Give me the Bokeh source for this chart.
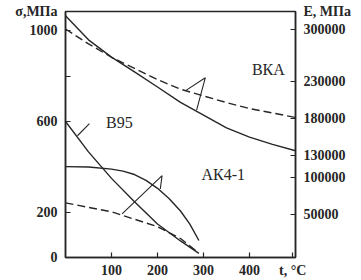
from bokeh.plotting import figure
from bokeh.models import Range1d, LinearAxis, FixedTicker, Label
from bokeh.embed import file_html
from bokeh.resources import INLINE

# ---- data ----
t_vka = [0, 50, 100, 150, 200, 250, 300, 350, 400, 450, 500]
sigma_vka = [1066, 960, 884, 819, 752, 684, 628, 572, 531, 499, 471]
E_vka = [300000, 280000, 262000, 247000, 232000, 219000, 210000, 201000, 193000, 187000, 181000]

t_v95 = [0, 50, 100, 150, 200, 250, 290]
sigma_v95 = [600, 466, 349, 246, 148, 73, 18]

t_ak = [0, 50, 100, 125, 150, 175, 200, 225, 250, 270, 290]
sigma_ak = [401, 399, 390, 381, 366, 340, 305, 260, 205, 148, 75]

t_ak_E = [0, 50, 100, 150, 200, 250, 283]
E_ak = [66000, 60000, 54000, 44000, 34000, 18000, 2000]

T_MAX = 500
SIGMA_MAX = 1085
E_MIN, E_MAX = -7500, 323600

x_ticks = [100, 200, 300, 400, 494]
x_labels = {494: "t, °C"}
sigma_ticks = [0, 200, 400, 600, 800, 1000, SIGMA_MAX]
sigma_labels = {400: "", 800: "", SIGMA_MAX: "σ,МПа"}
E_ticks = [50000, 100000, 130000, 180000, 230000, 300000, E_MAX]
E_labels = {v: str(v) for v in E_ticks}
E_labels[E_MAX] = "E, МПа"

curve_names = ["ВКА", "В95", "АК4-1"]
name_pos_t = [441, 117, 343]
name_pos_sigma = [828, 595, 366]

# leader strokes (t, sigma) for the curve labels
leader_vka = ([261, 304, 285], [736, 793, 650])
leader_v95 = ([26, 52], [537, 590])
leader_ak = ([123, 210, 206], [192, 361, 302])

INK = "#262626"
FONT = "Liberation Serif"

p = figure(width=361, height=280, x_range=Range1d(0, T_MAX), y_range=Range1d(0, SIGMA_MAX),
           output_backend="svg", toolbar_location=None,
           min_border_left=65, min_border_right=66, min_border_top=11, min_border_bottom=23)
p.extra_y_ranges = {"E": Range1d(E_MIN, E_MAX)}

p.background_fill_color = "white"
p.border_fill_color = "white"
p.outline_line_color = INK
p.outline_line_width = 1.5
p.xgrid.visible = False
p.ygrid.visible = False


def style_axis(ax, standoff):
    ax.axis_line_color = INK
    ax.axis_line_width = 1.5
    ax.major_tick_line_color = INK
    ax.major_tick_line_width = 1.2
    ax.major_tick_in = 5
    ax.major_tick_out = 0
    ax.minor_tick_line_color = None
    ax.major_label_text_font = FONT
    ax.major_label_text_font_style = "bold"
    ax.major_label_text_font_size = "14px"
    ax.major_label_text_color = INK
    ax.major_label_standoff = standoff


p.xaxis.ticker = FixedTicker(ticks=x_ticks)
p.xaxis.major_label_overrides = x_labels
style_axis(p.xaxis[0], 5)
p.yaxis.ticker = FixedTicker(ticks=sigma_ticks)
p.yaxis.major_label_overrides = sigma_labels
style_axis(p.yaxis[0], 8)

eax = LinearAxis(y_range_name="E", ticker=FixedTicker(ticks=E_ticks))
eax.major_label_overrides = E_labels
style_axis(eax, 8)
p.add_layout(eax, "right")

# curves: solid = strength (left axis), dashed = modulus (right axis)
p.line(t_vka, sigma_vka, line_color=INK, line_width=1.4)
p.line(t_vka, E_vka, y_range_name="E", line_color=INK, line_width=1.4, line_dash="8 4")
p.line(t_v95, sigma_v95, line_color=INK, line_width=1.4)
p.line(t_ak, sigma_ak, line_color=INK, line_width=1.4)
p.line(t_ak_E, E_ak, y_range_name="E", line_color=INK, line_width=1.4, line_dash="8 4")

for lx, ly in (leader_vka, leader_v95, leader_ak):
    p.line(lx, ly, line_color=INK, line_width=1.1)

for name, tx, ty in zip(curve_names, name_pos_t, name_pos_sigma):
    p.add_layout(Label(x=tx, y=ty, text=name, text_font=FONT, text_font_size="16px",
                       text_color=INK, text_align="center", text_baseline="middle"))

open("out.html", "w").write(file_html(p, INLINE))
